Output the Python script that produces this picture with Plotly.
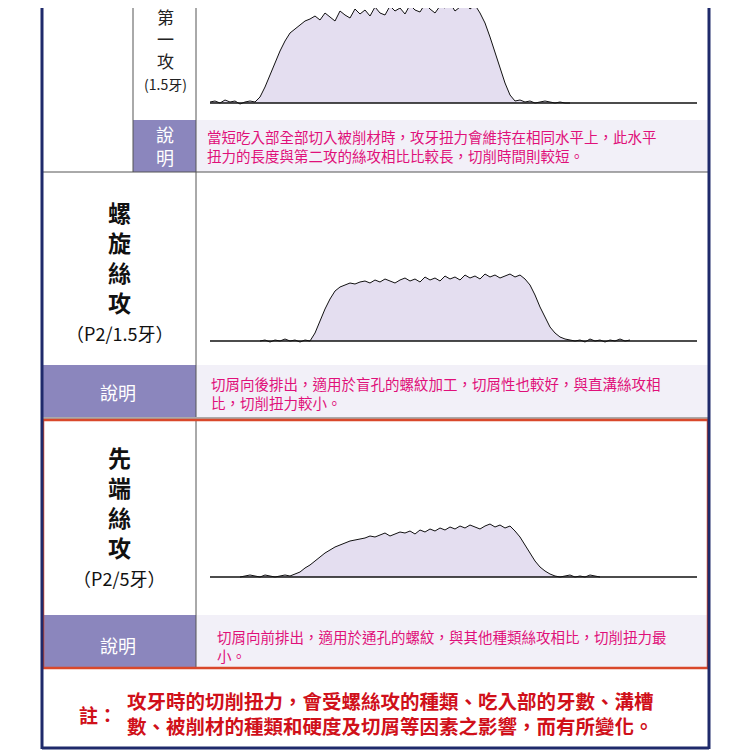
import numpy as np
import plotly.graph_objects as go

# torque samples, one every 5 units of cutting time
t1_start = 0
torque1 = [1, 2, 0, 3, 1, 2, -1, 1, 2, 1,
           6, 16, 28, 40, 52, 62, 70, 74, 78, 82,
           84, 87, 83, 90, 86, 82, 92, 88, 85, 94, 89, 93, 87, 96, 90, 88, 97, 92, 95, 89,
           98, 93, 91, 99, 94, 90, 97, 95, 100, 92, 96, 101, 94, 98,
           90, 80, 66, 50, 34, 20, 8, 2,
           3, 1, 2, 0, 1, 2, 1, 0, 1, 0, 0]
t2_start = 50
torque2 = [0, 1, -1, 1, 0, 2, 0, 1, -1, 1, 0,
           8, 20, 32, 42, 50, 54, 56, 58,
           57, 59, 60, 58, 61, 59, 62, 60, 58, 61, 63, 60, 62, 59, 64, 61, 63, 60, 65, 62,
           64, 61, 66, 63, 65, 62, 67, 64, 66, 63, 65, 67, 64, 66, 62,
           56, 46, 34, 24, 14, 8, 4, 2, 1,
           0, 1, -1, 2, 0, 1, -1, 1, 0, 2, 0, 1]
t3_start = 30
torque3 = [0, 1, 2, 1, 0, 2, 1, 0, 1, 2, 1, 3,
           5, 9, 12, 16, 20, 24, 27, 30, 32, 34, 36, 37, 38,
           39, 41, 40, 42, 44, 41, 43, 45, 44, 46, 43, 47, 45, 48, 46, 49, 47, 50, 48, 51,
           49, 52, 50, 48, 51, 53, 50, 52, 49, 51,
           46, 40, 32, 24, 16, 10, 6, 3, 1, 0,
           1, 2, 0, 1, 0, 2, 1, 0]

W = H = 750
OFF = 8  # page body margin
NAVY = "#1f2a6b"
PURPLE = "#8b86bd"
LAV = "#f2f0f8"
RED = "#d9482b"
MAG = "#e0107a"
FONT = "Noto Sans CJK TC"


def px(x):
    return (x - OFF) / W


def py(y):
    return 1 - (y - OFF) / H


fig = go.Figure()
shapes = []
ann = []


def rect(x0, y0, x1, y1, fill=None, line=None, lw=0):
    shapes.append(dict(type="rect", xref="paper", yref="paper",
                       x0=px(x0), x1=px(x1), y0=py(y1), y1=py(y0),
                       fillcolor=fill or "rgba(0,0,0,0)",
                       line=dict(color=line or "rgba(0,0,0,0)", width=lw), layer="below"))


def seg(x0, y0, x1, y1, color="#555", lw=1):
    shapes.append(dict(type="line", xref="paper", yref="paper",
                       x0=px(x0), x1=px(x1), y0=py(y0), y1=py(y1),
                       line=dict(color=color, width=lw)))


def text(x, y, s, size, color="#222", bold=False, anchor="center"):
    if bold:
        s = "<b>" + s.replace("<br>", "</b><br><b>") + "</b>"
    ann.append(dict(xref="paper", yref="paper", x=px(x), y=py(y), text=s,
                    showarrow=False, xanchor=anchor, yanchor="middle",
                    align=anchor if anchor != "center" else "center",
                    font=dict(family=FONT, size=size, color=color)))


# section 1
rect(133, 120, 196, 172, fill=PURPLE)
rect(196, 120, 709, 172, fill=LAV)
seg(133, 0, 133, 172)
seg(196, 0, 196, 172)
seg(42, 172, 709, 172)
text(165, 49, "第<br>一<br>攻<br><span style='font-size:14px'>(1.5牙)</span>", 17)
text(165, 146, "說<br>明", 18, color="white")
text(205, 146, "當短吃入部全部切入被削材時，攻牙扭力會維持在相同水平上，此水平<br>扭力的長度與第二攻的絲攻相比比較長，切削時間則較短。", 14.5, color=MAG, anchor="left")

# section 2
rect(42, 365, 196, 417, fill=PURPLE)
rect(196, 365, 709, 417, fill=LAV)
seg(196, 172, 196, 417)
seg(42, 418, 709, 418)
text(119, 257, "螺<br>旋<br>絲<br>攻", 23, color="#111", bold=True)
text(119, 333, "（P2/1.5牙）", 18, color="#111")
text(118, 392, "說明", 18, color="white")
text(209, 393, "切屑向後排出，適用於盲孔的螺紋加工，切屑性也較好，與直溝絲攻相<br>比，切削扭力較小。", 14.5, color=MAG, anchor="left")

# section 3
rect(42, 615, 196, 668, fill=PURPLE)
rect(196, 615, 709, 668, fill=LAV)
seg(196, 420, 196, 668)
text(119, 502, "先<br>端<br>絲<br>攻", 23, color="#111", bold=True)
text(119, 578, "（P2/5牙）", 18, color="#111")
text(118, 645, "說明", 18, color="white")
text(215, 646, "切屑向前排出，適用於通孔的螺紋，與其他種類絲攻相比，切削扭力最<br>小。", 14.5, color=MAG, anchor="left")
shapes.append(dict(type="rect", xref="paper", yref="paper", x0=px(43), x1=px(708),
                   y0=py(668), y1=py(420), line=dict(color=RED, width=2.5)))

# note
text(98, 714, "註：", 19, color="#d0101a", bold=True)
text(125, 713, "攻牙時的切削扭力，會受螺絲攻的種類、吃入部的牙數、溝槽<br>數、被削材的種類和硬度及切屑等因素之影響，而有所變化。", 19.5,
     color="#d0101a", bold=True, anchor="left")

# outer frame
seg(42, 0, 42, 749, NAVY, 3)
seg(709, 0, 709, 749, NAVY, 3)
seg(42, 748, 709, 748, NAVY, 3)

# charts
charts = [(torque1, t1_start, 103, 210), (torque2, t2_start, 341, 210), (torque3, t3_start, 577, 210)]
for k, (tq, start, base, left) in enumerate(charts):
    n = k + 1
    xs = start + 5 * np.arange(len(tq))
    fig.add_trace(go.Scatter(x=xs, y=tq, mode="lines", fill="tozeroy",
                             fillcolor="#e4def0", line=dict(color="#111", width=1),
                             xaxis="x" if n == 1 else f"x{n}", yaxis="y" if n == 1 else f"y{n}",
                             showlegend=False, hoverinfo="skip"))
    top = max(base - 103, OFF)
    ax = dict(domain=[px(left), px(697)], range=[0, 487], visible=False, fixedrange=True)
    ay = dict(domain=[py(base + 4), py(top)], range=[-4, (base - top)], visible=False, fixedrange=True)
    fig.update_layout(**{("xaxis" if n == 1 else f"xaxis{n}"): dict(ax, anchor="y" if n == 1 else f"y{n}"),
                         ("yaxis" if n == 1 else f"yaxis{n}"): dict(ay, anchor="x" if n == 1 else f"x{n}")})
    seg(left, base, 697, base, "#111", 1.5)

fig.update_layout(width=W, height=H, margin=dict(l=0, r=0, t=0, b=0),
                  paper_bgcolor="white", plot_bgcolor="rgba(0,0,0,0)",
                  shapes=shapes, annotations=ann, font=dict(family=FONT))
fig.write_html("out.html")
